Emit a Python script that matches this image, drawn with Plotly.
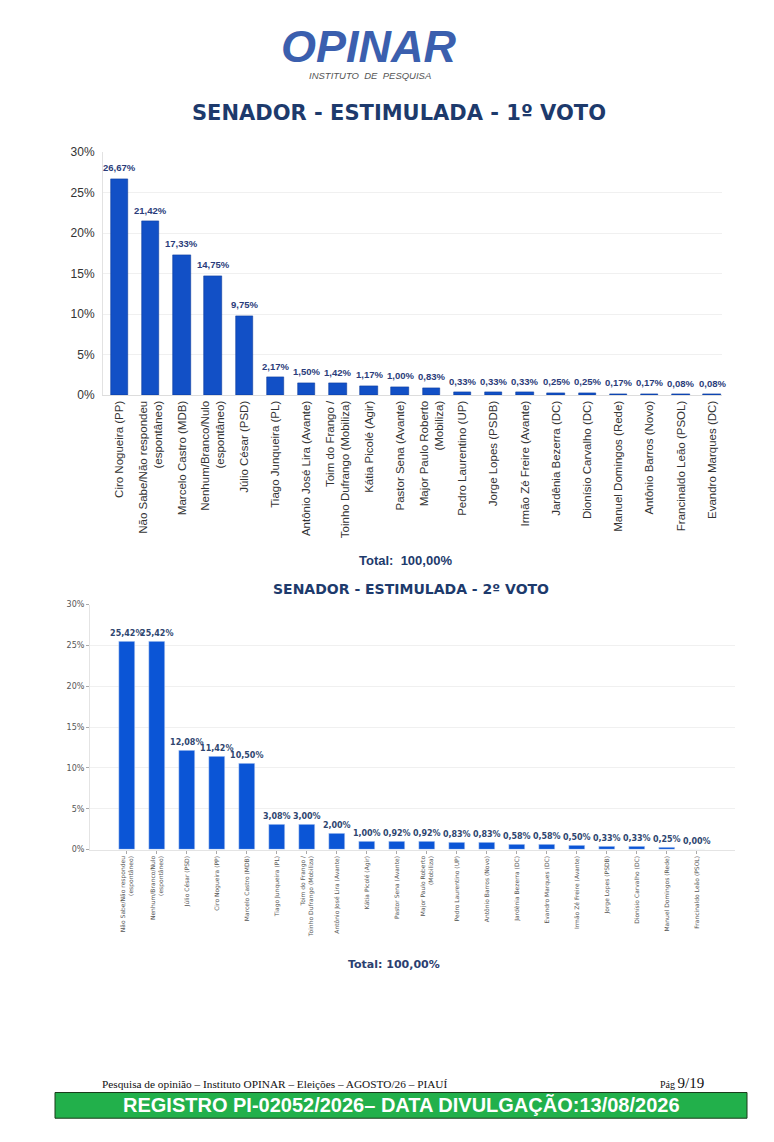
import plotly.graph_objects as go

# 1º voto
cands_1 = [
    "Ciro Nogueira (PP)", "Não Sabe/Não respondeu<br>(espontâneo)", "Marcelo Castro (MDB)",
    "Nenhum/Branco/Nulo<br>(espontâneo)", "Júlio César (PSD)", "Tiago Junqueira (PL)",
    "Antônio José Lira (Avante)", "Toim do Frango /<br>Toinho Dufrango (Mobiliza)",
    "Kátia Picolé (Agir)", "Pastor Sena (Avante)", "Major Paulo Roberto<br>(Mobiliza)",
    "Pedro Laurentino (UP)", "Jorge Lopes (PSDB)", "Irmão Zé Freire (Avante)",
    "Jardênia Bezerra (DC)", "Dionísio Carvalho (DC)", "Manuel Domingos (Rede)",
    "Antônio Barros (Novo)", "Francinaldo Leão (PSOL)", "Evandro Marques (DC)",
]
vals_1 = [26.67, 21.42, 17.33, 14.75, 9.75, 2.17, 1.50, 1.42, 1.17, 1.00,
          0.83, 0.33, 0.33, 0.33, 0.25, 0.25, 0.17, 0.17, 0.08, 0.08]

# 2º voto
cands_2 = [
    "Não Sabe/Não respondeu<br>(espontâneo)", "Nenhum/Branco/Nulo<br>(espontâneo)",
    "Júlio César (PSD)", "Ciro Nogueira (PP)", "Marcelo Castro (MDB)", "Tiago Junqueira (PL)",
    "Toim do Frango /<br>Toinho Dufrango (Mobiliza)", "Antônio José Lira (Avante)",
    "Kátia Picolé (Agir)", "Pastor Sena (Avante)", "Major Paulo Roberto<br>(Mobiliza)",
    "Pedro Laurentino (UP)", "Antônio Barros (Novo)", "Jardênia Bezerra (DC)",
    "Evandro Marques (DC)", "Irmão Zé Freire (Avante)", "Jorge Lopes (PSDB)",
    "Dionísio Carvalho (DC)", "Manuel Domingos (Rede)", "Francinaldo Leão (PSOL)",
]
vals_2 = [25.42, 25.42, 12.08, 11.42, 10.50, 3.08, 3.00, 2.00, 1.00, 0.92,
          0.92, 0.83, 0.83, 0.58, 0.58, 0.50, 0.33, 0.33, 0.25, 0.00]

y_ticks = [0, 5, 10, 15, 20, 25, 30]
y_labels = [f"{t}%" for t in y_ticks]

W, H = 774, 1142


def px(x):
    return x / W


def py(y):
    return 1 - y / H


def pct(v):
    return f"{v:.2f}".replace(".", ",") + "%"


fig = go.Figure()

fig.add_trace(go.Bar(
    x=list(range(len(cands_1))), y=vals_1,
    width=0.56,
    marker=dict(color="#1250c6", line=dict(color="#0b3c9e", width=0.6)),
    xaxis="x", yaxis="y", showlegend=False, hoverinfo="skip",
))
# value labels of the 1st chart sit a little higher above the bars
for i, v in enumerate(vals_1):
    fig.add_annotation(x=i, y=v, xref="x", yref="y", text=pct(v),
                       yanchor="bottom", yshift=4, showarrow=False,
                       font=dict(family="Liberation Sans, Arial", size=9.5,
                                 color="#2a3c7a", weight="bold"))

fig.add_trace(go.Bar(
    x=list(range(len(cands_2))), y=vals_2,
    width=0.56,
    marker=dict(color="#0b55d6"),
    text=[pct(v) for v in vals_2], textposition="outside", cliponaxis=False,
    constraintext="none",
    textfont=dict(family="DejaVu Sans", size=8, color="#2e4670", weight="bold"),
    xaxis="x2", yaxis="y2", showlegend=False, hoverinfo="skip",
))

fig.update_layout(
    width=W, height=H,
    margin=dict(l=0, r=0, t=0, b=0),
    paper_bgcolor="white", plot_bgcolor="white",
    bargap=0,
    xaxis=dict(
        domain=[px(103), px(722)], range=[-0.53, 19.32],
        tickvals=list(range(len(cands_1))), ticktext=cands_1, tickangle=-90,
        tickfont=dict(family="Liberation Sans, Arial", size=11.5, color="#333333"),
        showgrid=False, zeroline=False, showline=True, linecolor="#dddddd",
        anchor="y", fixedrange=True,
    ),
    yaxis=dict(
        domain=[py(393), py(147)], range=[0, 30],
        tickvals=y_ticks, ticktext=y_labels, ticklabelstandoff=5,
        tickfont=dict(family="Liberation Sans, Arial", size=12, color="#333333"),
        showgrid=True, gridcolor="#f0f0f0", zeroline=False,
        showline=True, linecolor="#e2e2e2", ticks="", anchor="x",
    ),
    xaxis2=dict(
        domain=[px(90), px(735)], range=[-1.23, 20.27],
        tickvals=list(range(len(cands_2))), ticktext=cands_2, tickangle=-90,
        tickfont=dict(family="DejaVu Sans", size=6, color="#555555"),
        showgrid=False, zeroline=False, showline=True, linecolor="#e4e4e4",
        ticks="outside", ticklen=3, tickcolor="#aaaaaa", anchor="y2",
    ),
    yaxis2=dict(
        domain=[py(853), py(605)], range=[0, 30],
        tickvals=y_ticks, ticktext=y_labels,
        tickfont=dict(family="DejaVu Sans", size=8, color="#555555"),
        showgrid=True, gridcolor="#f0f0f0", zeroline=False,
        showline=True, linecolor="#e4e4e4",
        ticks="outside", ticklen=3, tickcolor="#aaaaaa", anchor="x2",
    ),
)

notes = [
    # logo
    dict(x=px(369), y=py(40), text="<b><i>OPINAR</i></b>",
         font=dict(family="Liberation Sans, Arial", size=45, color="#3b5fae")),
    dict(x=px(370), y=py(69), text="<i>INSTITUTO  DE  PESQUISA</i>",
         font=dict(family="Liberation Sans, Arial", size=9.5, color="#555555")),
    # titles
    dict(x=px(399), y=py(107), text="<b>SENADOR - ESTIMULADA - 1º VOTO</b>",
         font=dict(family="DejaVu Sans", size=21, color="#1d3a6c")),
    dict(x=px(405), y=py(560), text="<b>Total:  100,00%</b>",
         font=dict(family="Liberation Sans, Arial", size=13, color="#1d3a6c")),
    dict(x=px(411), y=py(589), text="<b>SENADOR - ESTIMULADA - 2º VOTO</b>",
         font=dict(family="DejaVu Sans", size=14, color="#1d3a6c")),
    dict(x=px(394), y=py(969), text="<b>Total: 100,00%</b>",
         font=dict(family="DejaVu Sans", size=11, color="#2b4070")),
    # footer
    dict(x=px(100), y=py(1090), xanchor="left",
         text="Pesquisa de opinião – Instituto OPINAR – Eleições – AGOSTO/26 – PIAUÍ",
         font=dict(family="Liberation Serif, Times New Roman", size=11.3, color="#111111")),
    dict(x=px(706), y=py(1089), xanchor="right",
         text="<span style='font-size:10px'>Pág </span>9/19",
         font=dict(family="Liberation Serif, Times New Roman", size=15, color="#111111")),
    dict(x=px(401), y=py(1112),
         text="<b>REGISTRO PI-02052/2026– DATA DIVULGAÇÃO:13/08/2026</b>",
         font=dict(family="Liberation Sans, Arial", size=20, color="white")),
]
for n in notes:
    n.setdefault("xanchor", "center")
    fig.add_annotation(xref="paper", yref="paper", yanchor="middle", showarrow=False, **n)

fig.add_shape(type="rect", xref="paper", yref="paper",
              x0=px(55), x1=px(747), y0=py(1125), y1=py(1099),
              fillcolor="#22b04b", line=dict(color="#1a3a1a", width=1), layer="below")

fig.write_html("out.html", config={"displayModeBar": False},
               post_script="document.body.style.margin='0';")
